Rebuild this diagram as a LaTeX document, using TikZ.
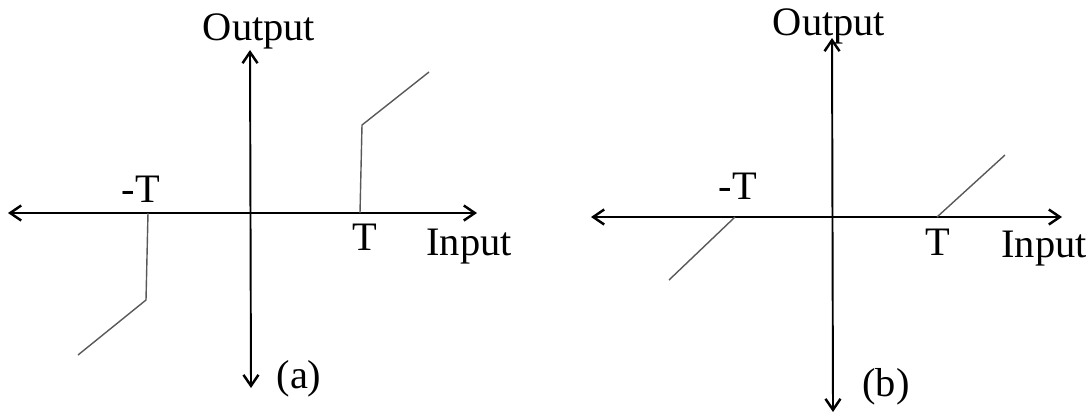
\documentclass[tikz,border=0pt]{standalone}
\usepackage{fontspec}
\setmainfont{Liberation Serif}
\usetikzlibrary{arrows.meta,positioning}

\begin{document}
\begin{tikzpicture}[
    % 以像素為單位 (1px = 0.2mm), y 軸向下
    x=0.2mm, y=-0.2mm,
    % 座標軸樣式
    axis/.style={
        draw=black,
        line width=1.1pt,
        {Straight Barb[length=2.2mm,width=3mm,line width=1.4pt]}-{Straight Barb[length=2.2mm,width=3mm,line width=1.4pt]}
    },
    % 特性曲線樣式
    curve/.style={
        draw=black!65,
        line width=0.8pt
    },
    % 文字標籤樣式
    lbl/.style={
        anchor=base,
        inner sep=0pt,
        font=\fontsize{23}{27}\selectfont
    }
]
\useasboundingbox (0,0) rectangle (1090,417);

% --- (a) 圖 ---
% 座標軸端點
\coordinate (aLeft)   at (8,213);
\coordinate (aRight)  at (477,213);
\coordinate (aTop)    at (250,50);
\coordinate (aBottom) at (251,388);
\draw[axis] (aLeft) -- (aRight);
\draw[axis] (aTop) -- (aBottom);

% 曲線轉折點
\coordinate (aPosA) at (360,213);
\coordinate (aPosB) at (362,125);
\coordinate (aPosC) at (429,72);
\coordinate (aNegA) at (148,213);
\coordinate (aNegB) at (146,300);
\coordinate (aNegC) at (78,355);
\draw[curve] (aPosA) -- (aPosB) -- (aPosC);
\draw[curve] (aNegA) -- (aNegB) -- (aNegC);

% 標籤
\node[lbl] (aOutput) at (259,40)  {Output};
\node[lbl] (aInput)  at (469,255) {Input};
\node[lbl] (aNegT)   at (141,202) {-T};
\node[lbl] (aPosT)   at (365,250) {T};
\node[lbl] (aCap)    at (299,388) {(a)};

% --- (b) 圖 ---
% 座標軸端點
\coordinate (bLeft)   at (591,217);
\coordinate (bRight)  at (1062,217);
\coordinate (bTop)    at (832,38);
\coordinate (bBottom) at (833,412);
\draw[axis] (bLeft) -- (bRight);
\draw[axis] (bTop) -- (bBottom);

% 曲線端點
\coordinate (bPosA) at (937,217);
\coordinate (bPosB) at (1005,155);
\coordinate (bNegA) at (735,217);
\coordinate (bNegB) at (669,280);
\draw[curve] (bPosA) -- (bPosB);
\draw[curve] (bNegA) -- (bNegB);

% 標籤
\node[lbl] (bOutput) at (829,35)  {Output};
\node[lbl] (bInput)  at (1044,257) {Input};
\node[lbl] (bNegT)   at (738,199) {-T};
\node[lbl] (bPosT)   at (938,255) {T};
\node[lbl] (bCap)    at (886,396) {(b)};

\end{tikzpicture}
\end{document}
